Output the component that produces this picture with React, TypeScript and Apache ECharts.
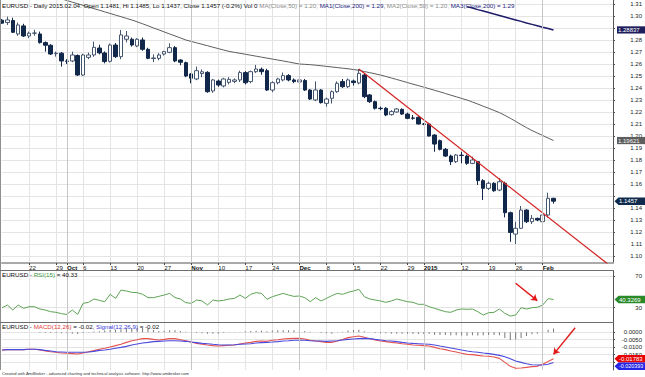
import React, { useEffect, useRef } from "react";
import * as echarts from "echarts";

const FONT = "'Liberation Sans', Arial, sans-serif";

// ---------- calendar (weekday sessions incl. holidays, as AmiBroker forex data) ----------
function weekdays(start: string, count: number): string[] {
  const out: string[] = [];
  const d = new Date(start + "T00:00:00Z");
  while (out.length < count) {
    const wd = d.getUTCDay();
    if (wd !== 0 && wd !== 6) out.push(d.toISOString().slice(0, 10));
    d.setUTCDate(d.getUTCDate() + 1);
  }
  return out;
}
const dates = weekdays("2014-09-15", 114);

// date tick labels: [date, text, isMonth]
const dateTicks: [string, string, boolean][] = [
  ["2014-09-22", "22", false], ["2014-09-29", "29", false], ["2014-10-01", "Oct", true],
  ["2014-10-06", "6", false], ["2014-10-13", "13", false], ["2014-10-20", "20", false],
  ["2014-10-27", "27", false], ["2014-11-03", "Nov", true], ["2014-11-10", "10", false],
  ["2014-11-17", "17", false], ["2014-11-24", "24", false], ["2014-12-01", "Dec", true],
  ["2014-12-08", "8", false], ["2014-12-15", "15", false], ["2014-12-22", "22", false],
  ["2014-12-29", "29", false], ["2015-01-01", "2015", true], ["2015-01-12", "12", false],
  ["2015-01-19", "19", false], ["2015-01-26", "26", false], ["2015-02-02", "Feb", true],
];

// ---------- price data ----------
const opens = [
  1.2965, 1.2945, 1.2962, 1.2850, 1.2917, 1.2833, 1.2856, 1.2850, 1.2778, 1.2756,
  1.2686, 1.2690, 1.2625, 1.2625, 1.2670, 1.2508, 1.2655, 1.2675, 1.2733, 1.2692,
  1.2622, 1.2758, 1.2661, 1.2806, 1.2806, 1.2750, 1.2800, 1.2722, 1.2645, 1.2647,
  1.2683, 1.2697, 1.2736, 1.2633, 1.2611, 1.2517, 1.2475, 1.2520, 1.2530, 1.2375,
  1.2458, 1.2417, 1.2447, 1.2455, 1.2467, 1.2528, 1.2453, 1.2536, 1.2556, 1.2544,
  1.2383, 1.2444, 1.2467, 1.2503, 1.2467, 1.2450, 1.2462, 1.2383, 1.2300, 1.2383,
  1.2272, 1.2314, 1.2369, 1.2453, 1.2411, 1.2458, 1.2442, 1.2508, 1.2342, 1.2286,
  1.2231, 1.2231, 1.2178, 1.2200, 1.2222, 1.2183, 1.2150, 1.2156, 1.2100, 1.2100,
  1.2008, 1.1961, 1.1889, 1.1833, 1.1786, 1.1840, 1.1833, 1.1772, 1.1786, 1.1628,
  1.1564, 1.1606, 1.1550, 1.1606, 1.1361, 1.1183, 1.1231, 1.1383, 1.1286, 1.1314,
  1.1286, 1.1342, 1.1481,
];
const highs = [
  1.2975, 1.2994, 1.2985, 1.2945, 1.2935, 1.2870, 1.2885, 1.2870, 1.2788, 1.2765,
  1.2703, 1.2700, 1.2640, 1.2703, 1.2680, 1.2685, 1.2695, 1.2786, 1.2760, 1.2705,
  1.2770, 1.2775, 1.2883, 1.2875, 1.2820, 1.2815, 1.2820, 1.2735, 1.2680, 1.2690,
  1.2710, 1.2772, 1.2750, 1.2640, 1.2620, 1.2525, 1.2578, 1.2555, 1.2540, 1.2475,
  1.2470, 1.2485, 1.2490, 1.2480, 1.2544, 1.2540, 1.2545, 1.2592, 1.2570, 1.2560,
  1.2455, 1.2485, 1.2528, 1.2515, 1.2480, 1.2489, 1.2475, 1.2390, 1.2455, 1.2390,
  1.2320, 1.2380, 1.2455, 1.2475, 1.2480, 1.2470, 1.2558, 1.2525, 1.2350, 1.2295,
  1.2245, 1.2240, 1.2215, 1.2232, 1.2230, 1.2195, 1.2175, 1.2165, 1.2108, 1.2110,
  1.2015, 1.1970, 1.1900, 1.1845, 1.1850, 1.1869, 1.1845, 1.1828, 1.1790, 1.1640,
  1.1620, 1.1615, 1.1650, 1.1620, 1.1370, 1.1286, 1.1417, 1.1390, 1.1342, 1.1320,
  1.1350, 1.1528, 1.1485,
];
const lows = [
  1.2935, 1.2925, 1.2858, 1.2835, 1.2825, 1.2815, 1.2835, 1.2770, 1.2703, 1.2675,
  1.2661, 1.2578, 1.2600, 1.2615, 1.2500, 1.2500, 1.2640, 1.2660, 1.2680, 1.2605,
  1.2612, 1.2650, 1.2640, 1.2780, 1.2745, 1.2740, 1.2710, 1.2640, 1.2615, 1.2630,
  1.2670, 1.2690, 1.2615, 1.2590, 1.2490, 1.2439, 1.2465, 1.2490, 1.2360, 1.2360,
  1.2410, 1.2405, 1.2430, 1.2440, 1.2450, 1.2430, 1.2440, 1.2525, 1.2510, 1.2375,
  1.2365, 1.2430, 1.2455, 1.2455, 1.2440, 1.2440, 1.2375, 1.2300, 1.2290, 1.2270,
  1.2244, 1.2270, 1.2360, 1.2400, 1.2400, 1.2420, 1.2430, 1.2315, 1.2275, 1.2220,
  1.2215, 1.2165, 1.2170, 1.2195, 1.2175, 1.2140, 1.2135, 1.2095, 1.2090, 1.1995,
  1.1869, 1.1880, 1.1825, 1.1758, 1.1775, 1.1772, 1.1760, 1.1765, 1.1592, 1.1467,
  1.1550, 1.1535, 1.1540, 1.1322, 1.1119, 1.1100, 1.1225, 1.1275, 1.1267, 1.1290,
  1.1270, 1.1320, 1.1437,
];
const closes = [
  1.2940, 1.2967, 1.2864, 1.2925, 1.2833, 1.2856, 1.2858, 1.2778, 1.2756, 1.2683,
  1.2690, 1.2625, 1.2622, 1.2675, 1.2508, 1.2675, 1.2675, 1.2739, 1.2692, 1.2620,
  1.2758, 1.2661, 1.2842, 1.2833, 1.2758, 1.2806, 1.2722, 1.2647, 1.2650, 1.2675,
  1.2703, 1.2736, 1.2625, 1.2614, 1.2500, 1.2481, 1.2544, 1.2535, 1.2369, 1.2467,
  1.2425, 1.2475, 1.2472, 1.2467, 1.2528, 1.2444, 1.2536, 1.2558, 1.2536, 1.2383,
  1.2444, 1.2475, 1.2503, 1.2467, 1.2453, 1.2467, 1.2383, 1.2308, 1.2383, 1.2278,
  1.2308, 1.2369, 1.2439, 1.2411, 1.2467, 1.2445, 1.2522, 1.2328, 1.2286, 1.2231,
  1.2228, 1.2175, 1.2203, 1.2225, 1.2183, 1.2147, 1.2148, 1.2100, 1.2098, 1.2000,
  1.1933, 1.1889, 1.1833, 1.1786, 1.1842, 1.1838, 1.1772, 1.1800, 1.1628, 1.1564,
  1.1606, 1.1544, 1.1619, 1.1361, 1.1197, 1.1231, 1.1383, 1.1286, 1.1314, 1.1300,
  1.1342, 1.1481, 1.1457,
];

const N0 = null;
const ma50: (number | null)[] = [
  N0, N0, N0, N0, N0, N0, N0, N0, N0, N0,
  N0, 1.3142, 1.3129, 1.3115, 1.3102, 1.3088, 1.3075, 1.3061, 1.3048, 1.3034,
  1.3021, 1.3007, 1.2994, 1.2980, 1.2967, 1.2951, 1.2935, 1.2918, 1.2900, 1.2884,
  1.2867, 1.2850, 1.2834, 1.2817, 1.2800, 1.2788, 1.2776, 1.2764, 1.2752, 1.2740,
  1.2728, 1.2716, 1.2705, 1.2697, 1.2689, 1.2681, 1.2673, 1.2665, 1.2657, 1.2649,
  1.2641, 1.2633, 1.2625, 1.2617, 1.2608, 1.2600, 1.2597, 1.2594, 1.2590, 1.2585,
  1.2580, 1.2575, 1.2570, 1.2565, 1.2560, 1.2554, 1.2547, 1.2537, 1.2528, 1.2518,
  1.2508, 1.2496, 1.2483, 1.2471, 1.2458, 1.2445, 1.2432, 1.2420, 1.2407, 1.2394,
  1.2381, 1.2368, 1.2354, 1.2340, 1.2327, 1.2313, 1.2300, 1.2283, 1.2266, 1.2248,
  1.2231, 1.2213, 1.2195, 1.2172, 1.2148, 1.2122, 1.2095, 1.2070, 1.2046, 1.2025,
  1.2004, 1.1983, 1.19621,
];
const ma200: (number | null)[] = [
  ...Array(86).fill(null),
  1.3078, 1.3066, 1.3053, 1.3041, 1.3029, 1.3016, 1.3004, 1.2992, 1.2979, 1.2967,
  1.2955, 1.2942, 1.2930, 1.2918, 1.2906, 1.2895, 1.28837,
];

// hand-drawn trendline: [bar index, price]
const trendLine: [number, number][] = [[66, 1.2558], [112, 1.0935]];

// ---------- indicators ----------
const rsi = [
  30.0, 33.4, 27.1, 33.4, 29.2, 31.3, 31.3, 28.4, 27.1, 25.0,
  24.2, 22.5, 21.6, 27.1, 21.6, 35.5, 36.8, 41.0, 39.3, 37.6,
  46.9, 41.8, 52.3, 51.1, 49.4, 49.0, 46.9, 42.7, 42.7, 44.3,
  46.0, 48.1, 42.7, 41.0, 36.4, 35.5, 39.7, 38.5, 33.4, 39.7,
  38.5, 39.3, 41.0, 41.8, 46.0, 41.8, 46.9, 49.0, 48.1, 40.6,
  43.9, 46.0, 48.1, 46.0, 44.3, 44.8, 42.7, 37.6, 42.7, 38.5,
  41.8, 45.2, 48.1, 46.9, 49.4, 51.1, 53.2, 43.9, 41.0, 39.7,
  38.5, 36.8, 38.5, 41.0, 39.3, 37.6, 36.8, 34.3, 34.3, 31.3,
  29.2, 27.1, 25.0, 24.2, 27.1, 28.4, 28.0, 28.4, 25.0, 20.8,
  23.7, 24.2, 28.4, 22.9, 19.5, 20.8, 30.0, 28.4, 30.0, 30.5,
  33.4, 41.4, 40.3269,
];
const macd = [
  -0.0120, -0.0117, -0.0117, -0.0117, -0.0117, -0.0115, -0.0115, -0.0120, -0.0126, -0.0131,
  -0.0135, -0.0140, -0.0142, -0.0144, -0.0147, -0.0140, -0.0131, -0.0124, -0.0115, -0.0108,
  -0.0099, -0.0090, -0.0081, -0.0068, -0.0057, -0.0050, -0.0043, -0.0043, -0.0048, -0.0052,
  -0.0048, -0.0043, -0.0043, -0.0050, -0.0057, -0.0066, -0.0075, -0.0081, -0.0086, -0.0090,
  -0.0093, -0.0090, -0.0088, -0.0086, -0.0079, -0.0072, -0.0068, -0.0061, -0.0059, -0.0061,
  -0.0054, -0.0050, -0.0045, -0.0043, -0.0041, -0.0041, -0.0045, -0.0054, -0.0059, -0.0063,
  -0.0068, -0.0068, -0.0059, -0.0048, -0.0036, -0.0030, -0.0025, -0.0034, -0.0043, -0.0052,
  -0.0059, -0.0063, -0.0068, -0.0072, -0.0077, -0.0081, -0.0086, -0.0088, -0.0090, -0.0093,
  -0.0102, -0.0111, -0.0117, -0.0126, -0.0133, -0.0142, -0.0149, -0.0151, -0.0156, -0.0160,
  -0.0162, -0.0167, -0.0176, -0.0203, -0.0230, -0.0243, -0.0241, -0.0237, -0.0232, -0.0230,
  -0.0216, -0.0198, -0.01783,
];
const signal = [
  -0.0120, -0.0117, -0.0117, -0.0117, -0.0117, -0.0115, -0.0115, -0.0117, -0.0122, -0.0126,
  -0.0131, -0.0133, -0.0135, -0.0135, -0.0135, -0.0135, -0.0133, -0.0129, -0.0122, -0.0120,
  -0.0115, -0.0108, -0.0102, -0.0095, -0.0086, -0.0079, -0.0072, -0.0068, -0.0063, -0.0061,
  -0.0059, -0.0057, -0.0057, -0.0059, -0.0061, -0.0066, -0.0070, -0.0075, -0.0077, -0.0081,
  -0.0084, -0.0086, -0.0086, -0.0084, -0.0081, -0.0079, -0.0077, -0.0072, -0.0070, -0.0068,
  -0.0066, -0.0063, -0.0059, -0.0057, -0.0054, -0.0054, -0.0054, -0.0057, -0.0059, -0.0059,
  -0.0061, -0.0059, -0.0057, -0.0052, -0.0048, -0.0045, -0.0043, -0.0041, -0.0043, -0.0048,
  -0.0052, -0.0057, -0.0059, -0.0063, -0.0068, -0.0072, -0.0075, -0.0077, -0.0079, -0.0081,
  -0.0086, -0.0093, -0.0099, -0.0106, -0.0113, -0.0120, -0.0126, -0.0131, -0.0135, -0.0140,
  -0.0144, -0.0149, -0.0156, -0.0165, -0.0178, -0.0194, -0.0203, -0.0212, -0.0219, -0.0221,
  -0.0221, -0.0216, -0.020393,
];
const macdHist = [
  0, 0, 0, 0, 0, 0, 0, -0.0003, -0.0004, -0.0005,
  -0.0004, -0.0007, -0.0007, -0.0009, -0.0012, -0.0005, 0.0002, 0.0005, 0.0007, 0.0012,
  0.0016, 0.0018, 0.0021, 0.0027, 0.0029, 0.0029, 0.0029, 0.0025, 0.0015, 0.0009,
  0.0011, 0.0014, 0.0014, 0.0009, 0.0004, 0.0000, -0.0005, -0.0006, -0.0009, -0.0009,
  -0.0009, -0.0004, -0.0002, -0.0002, 0.0002, 0.0007, 0.0009, 0.0011, 0.0011, 0.0007,
  0.0012, 0.0013, 0.0014, 0.0014, 0.0013, 0.0013, 0.0009, 0.0003, 0.0000, -0.0004,
  -0.0007, -0.0009, -0.0002, 0.0004, 0.0012, 0.0015, 0.0018, 0.0007, 0.0000, -0.0004,
  -0.0007, -0.0006, -0.0009, -0.0009, -0.0009, -0.0009, -0.0011, -0.0011, -0.0011, -0.0012,
  -0.0016, -0.0018, -0.0018, -0.0020, -0.0020, -0.0022, -0.0023, -0.0020, -0.0021, -0.0020,
  -0.0018, -0.0018, -0.0020, -0.0038, -0.0052, -0.0049, -0.0038, -0.0025, -0.0013, -0.0009,
  0.0005, 0.0018, 0.0026,
];

// axis tick values (gridlines) and the labels that remain visible beside the value tags
const priceTicks = [1.10, 1.11, 1.12, 1.13, 1.14, 1.15, 1.16, 1.17, 1.18, 1.19, 1.20,
  1.21, 1.22, 1.23, 1.24, 1.25, 1.26, 1.27, 1.28, 1.29, 1.30, 1.31];
const priceLabels = [1.10, 1.11, 1.12, 1.13, 1.14, 1.16, 1.17, 1.18, 1.19, 1.20,
  1.21, 1.22, 1.23, 1.24, 1.25, 1.26, 1.27, 1.28, 1.30, 1.31];
const rsiTicks = [30, 70];
const macdTicks = [0, -0.005, -0.01, -0.015, -0.02];
const macdLabels = [0, -0.005, -0.01, -0.015];

// annotation arrows: [[barIndex, value] from, [barIndex, value] to]
const rsiArrow: [number, number][] = [[95, 60.8], [99, 38.9]];
const macdArrow: [number, number][] = [[106, 0.0031], [102, -0.0149]];

export default function App() {
  const ref = useRef<HTMLDivElement>(null);

  useEffect(() => {
    const chart = echarts.init(ref.current!, null, { renderer: "svg" });
    const tickMap = new Map(dateTicks.map((t) => [t[0], t]));
    const isTick = (_i: number, v: string) => tickMap.has(v);
    const monthDates = dateTicks.filter((t) => t[2]).map((t) => t[0]);

    const makeX = (gridIndex: number, main: boolean) => ({
      type: "category",
      gridIndex,
      data: dates,
      boundaryGap: false,
      axisLine: { show: main, lineStyle: { color: "#a9a9a9", width: 2 } },
      axisTick: { show: main, interval: isTick, length: 2, lineStyle: { color: "#444", width: 1 } },
      axisLabel: {
        show: main,
        interval: isTick,
        align: "left",
        margin: 1,
        fontSize: 6.2,
        fontFamily: FONT,
        color: "#222",
        formatter: (v: string) => {
          const t = tickMap.get(v);
          if (!t) return "";
          return t[2] ? `{b|${t[1]}}` : t[1];
        },
        rich: { b: { fontWeight: "bold", fontSize: 6.2, fontFamily: FONT, color: "#111" } },
      },
      splitLine: { show: true, interval: isTick, lineStyle: { color: "#e4e4e4", width: 1 } },
    });

    const makeY = (
      gridIndex: number, min: number, max: number, ticks: number[], labels: number[], fmt: (v: number) => string,
    ) => ({
      type: "value",
      gridIndex,
      position: "right",
      min,
      max,
      axisLine: { show: true, lineStyle: { color: "#555", width: 1 } },
      axisTick: { show: true, customValues: ticks, length: 2, lineStyle: { color: "#555" } },
      axisLabel: {
        customValues: labels,
        formatter: fmt,
        align: "right",
        margin: 29,
        fontSize: 6,
        fontFamily: FONT,
        color: "#222",
      },
      splitLine: { show: true, lineStyle: { color: "#e4e4e4", width: 1 } },
    });

    const monthLines = {
      silent: true,
      symbol: "none",
      label: { show: false },
      lineStyle: { color: "#c6c6c6", width: 1, type: "solid" },
      data: monthDates.map((d) => ({ xAxis: d })),
    };
    const arrowLine = (pts: [number, number][]) => ({
      silent: true,
      symbol: ["none", "arrow"],
      symbolSize: 6,
      label: { show: false },
      lineStyle: { color: "#e01818", width: 1.4, type: "solid" },
      data: [[{ coord: pts[0] }, { coord: pts[1] }]],
    });

    const candleData = closes.map((c, i) => [opens[i], c, lows[i], highs[i]]);

    chart.setOption({
      animation: false,
      textStyle: { fontFamily: FONT },
      grid: [
        { left: 2, right: 31, top: 0, height: 263 },
        { left: 2, right: 31, top: 271, height: 51 },
        { left: 2, right: 31, top: 323, height: 47 },
      ],
      xAxis: [makeX(0, true), makeX(1, false), makeX(2, false)],
      yAxis: [
        makeY(0, 1.0942, 1.3133, priceTicks, priceLabels, (v) => v.toFixed(2)),
        makeY(1, 12, 76.3, rsiTicks, rsiTicks, (v) => String(Math.round(v))),
        makeY(2, -0.02547, 0.00628, macdTicks, macdLabels, (v) => v.toFixed(4)),
      ],
      series: [
        {
          type: "candlestick",
          xAxisIndex: 0,
          yAxisIndex: 0,
          data: candleData,
          barWidth: 4,
          silent: true,
          itemStyle: {
            color: "#ffffff",
            color0: "#12284a",
            borderColor: "#45566f",
            borderColor0: "#12284a",
            borderWidth: 1,
          },
          markLine: monthLines,
        },
        {
          type: "line", xAxisIndex: 0, yAxisIndex: 0, data: ma50, symbol: "none", silent: true,
          lineStyle: { color: "#5e5e5e", width: 1 },
        },
        {
          type: "line", xAxisIndex: 0, yAxisIndex: 0, data: ma200, symbol: "none", silent: true,
          lineStyle: { color: "#1c1c6a", width: 1.5 },
        },
        {
          type: "line", xAxisIndex: 0, yAxisIndex: 0, data: trendLine, symbol: "none", silent: true,
          lineStyle: { color: "#d42222", width: 1.2 },
        },
        {
          type: "line", xAxisIndex: 1, yAxisIndex: 1, data: rsi, symbol: "none", silent: true,
          lineStyle: { color: "#5ea356", width: 1 },
          markLine: arrowLine(rsiArrow),
        },
        {
          type: "line", xAxisIndex: 1, yAxisIndex: 1, data: [], symbol: "none", silent: true,
          markLine: monthLines,
        },
        {
          type: "bar", xAxisIndex: 2, yAxisIndex: 2, data: macdHist, barWidth: 1, silent: true,
          itemStyle: { color: "#777777" },
          markLine: monthLines,
        },
        {
          type: "line", xAxisIndex: 2, yAxisIndex: 2, data: macd, symbol: "none", silent: true,
          lineStyle: { color: "#e5534e", width: 1.1 },
          markLine: arrowLine(macdArrow),
        },
        {
          type: "line", xAxisIndex: 2, yAxisIndex: 2, data: signal, symbol: "none", silent: true,
          lineStyle: { color: "#4a4ade", width: 1.1 },
        },
      ],
    });

    const py = (axis: number, v: number) => chart.convertToPixel({ yAxisIndex: axis } as any, v) as number;
    const last = closes.length - 1;
    const R = 645;
    const boxTag = (y: number, text: string, bg: string, fg: string) => [
      { type: "rect", z: 100, shape: { x: 617, y: y - 3.6, width: R - 617, height: 7.2 }, style: { fill: bg } },
      {
        type: "text", z: 101, x: 618, y,
        style: { text, fill: fg, fontSize: 6, fontFamily: FONT, textVerticalAlign: "middle", textAlign: "left" },
      },
    ];
    const arrowTag = (y: number, text: string, bg: string, fg: string, size = 6) => [
      {
        type: "polygon", z: 100,
        shape: { points: [[614.5, y], [618.5, y - 3.8], [R, y - 3.8], [R, y + 3.8], [618.5, y + 3.8]] },
        style: { fill: bg },
      },
      {
        type: "text", z: 101, x: 619, y,
        style: { text, fill: fg, fontSize: size, fontFamily: FONT, textVerticalAlign: "middle", textAlign: "left" },
      },
    ];
    const macdY = py(2, macd[last]);
    const sigY = Math.max(py(2, signal[last]), macdY + 7.6);

    const frameLine = (x1: number, y1: number, x2: number, y2: number, c: string) => ({
      type: "line", z: 90, silent: true, shape: { x1, y1, x2, y2 }, style: { stroke: c, lineWidth: 1 },
    });
    const txt = (x: number, y: number, text: string, rich: any, size: number) => ({
      type: "text", z: 95, x, y, silent: true,
      style: { text, rich, fontSize: size, fontFamily: FONT, fill: "#000", textVerticalAlign: "middle" },
    });
    const rs = (c: string, s = 6.2) => ({ fill: c, color: c, fontSize: s, fontFamily: FONT });

    chart.setOption({
      graphic: [
        frameLine(0.5, 0, 0.5, 370, "#8e8e8e"),
        frameLine(0, 270.5, 614, 270.5, "#6e6e6e"),
        frameLine(0, 322.5, 614, 322.5, "#6e6e6e"),
        txt(2, 5.5,
          "{k|EURUSD - Daily 2015.02.04. Open 1.1481, Hi 1.1485, Lo 1.1437, Close 1.1457 (-0.2%) Vol 0 }{g|MA(Close,50) = 1.20, }{n|MA1(Close,200) = 1.29, }{g|MA2(Close,50) = 1.20, }{n|MA3(Close,200) = 1.29}",
          { k: rs("#111"), g: rs("#8c8c8c"), n: rs("#1c1c7a") }, 6.2),
        txt(2, 274.5, "{k|EURUSD - }{g|RSI(15)}{k| = 40.33}", { k: rs("#111"), g: rs("#3f9a3f") }, 6.2),
        txt(2, 326.7,
          "{k|EURUSD - }{r|MACD(12,26)}{k| = -0.02, }{b|Signal(12,26,9)}{k| = -0.02}",
          { k: rs("#111"), r: rs("#e03a3a"), b: rs("#3a3ad8") }, 6.2),
        txt(2, 373.5,
          "{f|Created with AmiBroker - advanced charting and technical analysis software. http://www.amibroker.com}",
          { f: rs("#333", 4.1) }, 4.1),
        ...boxTag(py(0, ma200[last] as number), String(ma200[last]), "#1d1d5c", "#ffffff"),
        ...boxTag(py(0, ma50[last] as number), String(ma50[last]), "#5e5e5e", "#eeeeee"),
        ...arrowTag(py(0, closes[last]), String(closes[last]), "#0f2a4c", "#ffffff"),
        ...arrowTag(py(1, rsi[last]), String(rsi[last]), "#2a8a2a", "#ffffff"),
        ...arrowTag(macdY, String(macd[last]), "#e80000", "#ffffff"),
        ...arrowTag(sigY, String(signal[last]), "#2424e6", "#ffffff", 5.4),
      ],
    });

    return () => chart.dispose();
  }, []);

  return (
    <div
      ref={ref}
      style={{ position: "fixed", left: 0, top: 0, width: 645, height: 377, background: "#ffffff" }}
    />
  );
}
